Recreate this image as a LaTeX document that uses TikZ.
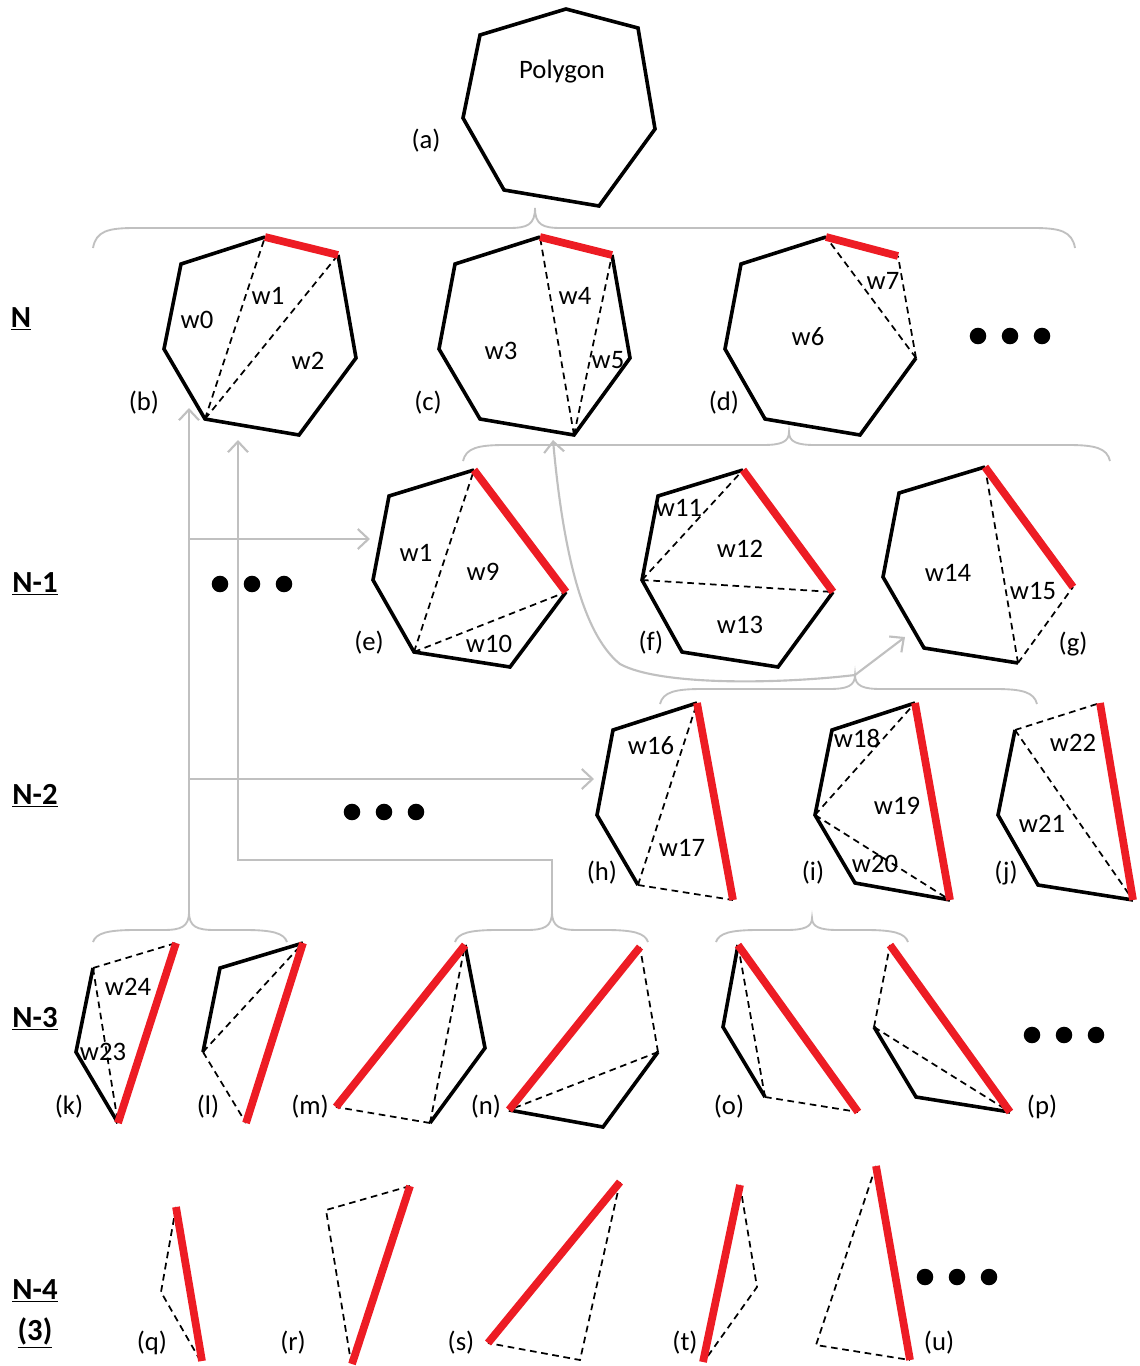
\documentclass[tikz,border=0pt]{standalone}
\usepackage{fontspec}
\setmainfont{Carlito}
\usetikzlibrary{arrows.meta}
\definecolor{myred}{RGB}{237,28,36}
\definecolor{mygrey}{RGB}{192,192,192}
\tikzset{
  blk/.style={line width=2.7pt, line join=miter, black},
  redl/.style={line width=5.8pt, myred},
  dsh/.style={line width=1.3pt, dash pattern=on 5pt off 3.5pt, black},
  gl/.style={line width=1.6pt, mygrey},
  gar/.style={-{Straight Barb[length=8pt,width=15pt,line width=1.6pt]}},
  gbr/.style={line width=1.4pt, mygrey},
  lbl/.style={font=\fontsize{20}{24}\selectfont, inner sep=0pt},
  rowl/.style={font=\fontsize{23}{27}\selectfont\bfseries, inner sep=0pt},
  dotc/.style={fill=black, draw=none}
}
\newcommand\mybrace[6]{%
 \draw[gbr] (#1,#4+#6) .. controls (#1+3,#4+3) and (#1+15,#4) .. (#1+42,#4) -- (#3-26,#4) .. controls (#3-8,#4) and (#3,#4-3) .. (#3,#5) .. controls (#3,#4-3) and (#3+8,#4) .. (#3+26,#4) -- (#2-42,#4) .. controls (#2-15,#4) and (#2-3,#4+3) .. (#2,#4+#6);}
\newcommand\threedots[3]{%
 \fill[dotc] (#1,#3) circle (6.2pt) (#1+32,#3) circle (6.2pt) (#2,#3) circle (6.2pt);}
\begin{document}
\begin{tikzpicture}[x=0.75pt,y=-0.75pt]
\useasboundingbox (0,0) rectangle (1139,1366);

% ---------- braces ----------
\mybrace{93}{1075}{535}{228}{208}{20}
\mybrace{463}{1110}{789}{445}{432}{16}
\mybrace{660}{1037}{855}{689}{675}{15}
\mybrace{93}{287}{189}{930}{912}{12}
\mybrace{455}{648}{552}{930}{912}{12}
\mybrace{716}{908}{812}{930}{918}{12}

% ---------- grey connectors ----------
\coordinate (t4) at (189,912);
\coordinate (t5) at (552,912);
\coordinate (t3) at (855,675);
\coordinate (k5) at (552,860);
\coordinate (tb1) at (189,408);
\coordinate (tb2) at (238,440);
\coordinate (j1) at (189,539);
\coordinate (j2) at (189,779);
\coordinate (te) at (370,539);
\coordinate (th) at (594,779);
\coordinate (tc) at (553,440);
\coordinate (tg) at (905,637);
\draw[gl,gar] (t4) -- (tb1);
\draw[gl,gar] (j1) -- (te);
\draw[gl,gar] (j2) -- (th);
\draw[gl,gar] (t5) -- (k5) -| (tb2);
\draw[gl,gar] (t3) .. controls (780,684) and (660,686) .. (620,664) .. controls (580,632) and (562,540) .. (tc);
\draw[gl,gar] (t3) .. controls (872,662) and (888,650) .. (tg);

% ---------- row labels ----------
\node[rowl] (rN) at (21,319) {\underline{N}};
\node[rowl] (rN1) at (35,584) {\underline{N-1}};
\node[rowl] (rN2) at (35,796) {\underline{N-2}};
\node[rowl] (rN3) at (35,1019) {\underline{N-3}};
\node[rowl] (rN4) at (35,1291) {\underline{N-4}};
\node[rowl] (rN4b) at (35,1333) {\underline{(3)}};

% ---------- (a) ----------
\draw[blk] (566,9) -- (638,28) -- (655,129) -- (599,206) -- (504,190) -- (463,118) -- (480,35) -- cycle;
\node[lbl] (pg) at (562,72) {Polygon};
\node[lbl] (la) at (426,141) {(a)};

% ---------- (b) ----------
\draw[dsh] (205,419) -- (265,237) (205,419) -- (338,255);
\draw[blk] (265,237) -- (181,264) -- (164,349) -- (205,419) -- (299,435) -- (356,358) -- (338,255);
\draw[redl] (265,237) -- (338,255);
\node[lbl] (w0) at (197,320) {w0};
\node[lbl] (w1) at (268,296) {w1};
\node[lbl] (w2) at (308,361) {w2};
\node[lbl] (lb) at (144,403) {(b)};

% ---------- (c) ----------
\draw[dsh] (574,435) -- (540,237) (574,435) -- (612,255);
\draw[blk] (540,237) -- (455,264) -- (439,349) -- (480,419) -- (574,435) -- (630,358) -- (612,255);
\draw[redl] (540,237) -- (612,255);
\node[lbl] (w3) at (501,351) {w3};
\node[lbl] (w4) at (575,296) {w4};
\node[lbl] (w5) at (608,360) {w5};
\node[lbl] (lc) at (428,403) {(c)};

% ---------- (d) ----------
\draw[dsh] (916,358) -- (826,237) (916,358) -- (898,256);
\draw[blk] (826,237) -- (741,264) -- (725,349) -- (765,419) -- (860,435) -- (916,358);
\draw[redl] (826,237) -- (898,256);
\node[lbl] (w6) at (808,337) {w6};
\node[lbl] (w7) at (883,281) {w7};
\node[lbl] (ld) at (724,403) {(d)};
\threedots{978}{1042}{336}

% ---------- (e) ----------
\draw[dsh] (414,652) -- (474,470) (414,652) -- (566,592);
\draw[blk] (474,470) -- (389,496) -- (373,580) -- (414,652) -- (510,667) -- (566,592);
\draw[redl] (474,470) -- (566,592);
\node[lbl] (w1e) at (416,553) {w1};
\node[lbl] (w9) at (483,572) {w9};
\node[lbl] (w10) at (489,644) {w10};
\node[lbl] (le) at (369,643) {(e)};
\threedots{220}{284}{584}

% ---------- (f) ----------
\draw[dsh] (642,580) -- (743,470) (642,580) -- (833,592);
\draw[blk] (743,470) -- (658,496) -- (642,580) -- (682,652) -- (778,667) -- (833,592);
\draw[redl] (743,470) -- (833,592);
\node[lbl] (w11) at (679,508) {w11};
\node[lbl] (w12) at (740,549) {w12};
\node[lbl] (w13) at (740,625) {w13};
\node[lbl] (lf) at (651,643) {(f)};

% ---------- (g) ----------
\draw[dsh] (1018,663) -- (985,467) (1018,663) -- (1073,587);
\draw[blk] (985,467) -- (899,493) -- (883,577) -- (924,648) -- (1018,663);
\draw[redl] (985,467) -- (1073,587);
\node[lbl] (w14) at (948,573) {w14};
\node[lbl] (w15) at (1033,591) {w15};
\node[lbl] (lg) at (1073,644) {(g)};

% ---------- (h) ----------
\draw[dsh] (638,885) -- (697,703) (638,885) -- (733,900);
\draw[blk] (697,703) -- (613,730) -- (597,815) -- (638,885);
\draw[redl] (697,703) -- (733,900);
\node[lbl] (w16) at (651,746) {w16};
\node[lbl] (w17) at (682,848) {w17};
\node[lbl] (lh) at (602,873) {(h)};
\threedots{352}{416}{812}

% ---------- (i) ----------
\draw[dsh] (815,815) -- (915,703) (815,815) -- (950,900);
\draw[blk] (915,703) -- (832,730) -- (815,815) -- (855,883) -- (950,900);
\draw[redl] (915,703) -- (950,900);
\node[lbl] (w18) at (857,738) {w18};
\node[lbl] (w19) at (897,806) {w19};
\node[lbl] (w20) at (875,864) {w20};
\node[lbl] (li) at (813,873) {(i)};

% ---------- (j) ----------
\draw[dsh] (1015,730) -- (1100,703) (1015,730) -- (1133,900);
\draw[blk] (1015,730) -- (998,815) -- (1038,885) -- (1133,900);
\draw[redl] (1100,703) -- (1133,900);
\node[lbl] (w22) at (1073,743) {w22};
\node[lbl] (w21) at (1042,824) {w21};
\node[lbl] (lj) at (1006,873) {(j)};

% ---------- (k) ----------
\draw[dsh] (93,968) -- (176,943) (93,968) -- (118,1123);
\draw[blk] (93,968) -- (76,1052) -- (118,1123);
\draw[redl] (176,943) -- (118,1123);
\node[lbl] (w24) at (128,987) {w24};
\node[lbl] (w23) at (103,1052) {w23};
\node[lbl] (lk) at (69,1107) {(k)};

% ---------- (l) ----------
\draw[dsh] (203,1052) -- (303,943) (203,1052) -- (246,1123);
\draw[blk] (303,943) -- (220,968) -- (203,1052);
\draw[redl] (303,943) -- (246,1123);
\node[lbl] (ll) at (208,1107) {(l)};

% ---------- (m) ----------
\draw[dsh] (430,1123) -- (465,945) (430,1123) -- (336,1107);
\draw[blk] (465,945) -- (485,1048) -- (430,1123);
\draw[redl] (336,1107) -- (465,945);
\node[lbl] (lm) at (310,1107) {(m)};

% ---------- (n) ----------
\draw[dsh] (658,1052) -- (640,947) (658,1052) -- (509,1110);
\draw[blk] (509,1110) -- (603,1127) -- (658,1052);
\draw[redl] (509,1110) -- (640,947);
\node[lbl] (ln) at (486,1107) {(n)};

% ---------- (o) ----------
\draw[dsh] (765,1097) -- (738,945) (765,1097) -- (858,1112);
\draw[blk] (738,945) -- (723,1027) -- (765,1097);
\draw[redl] (738,945) -- (858,1112);
\node[lbl] (lo) at (729,1107) {(o)};

% ---------- (p) ----------
\draw[dsh] (874,1027) -- (890,945) (874,1027) -- (1010,1112);
\draw[blk] (874,1027) -- (916,1097) -- (1010,1112);
\draw[redl] (890,945) -- (1010,1112);
\node[lbl] (lp) at (1042,1107) {(p)};
\threedots{1032}{1096}{1035}

% ---------- N-4 row ----------
\draw[dsh] (176,1207) -- (161,1292) -- (200,1360);
\draw[redl] (176,1207) -- (202,1361);
\node[lbl] (lq) at (152,1343) {(q)};

\draw[dsh] (410,1186) -- (326,1210) -- (351,1362);
\draw[redl] (410,1186) -- (352,1364);
\node[lbl] (lr) at (293,1343) {(r)};

\draw[dsh] (620,1182) -- (580,1360) -- (488,1343);
\draw[redl] (488,1343) -- (620,1182);
\node[lbl] (ls) at (461,1343) {(s)};

\draw[dsh] (740,1185) -- (757,1287) -- (705,1360);
\draw[redl] (740,1185) -- (703,1362);
\node[lbl] (lt) at (685,1343) {(t)};

\draw[dsh] (876,1166) -- (816,1345) -- (910,1360);
\draw[redl] (876,1166) -- (910,1360);
\node[lbl] (lu) at (939,1343) {(u)};
\threedots{925}{989}{1277}
\end{tikzpicture}
\end{document}
